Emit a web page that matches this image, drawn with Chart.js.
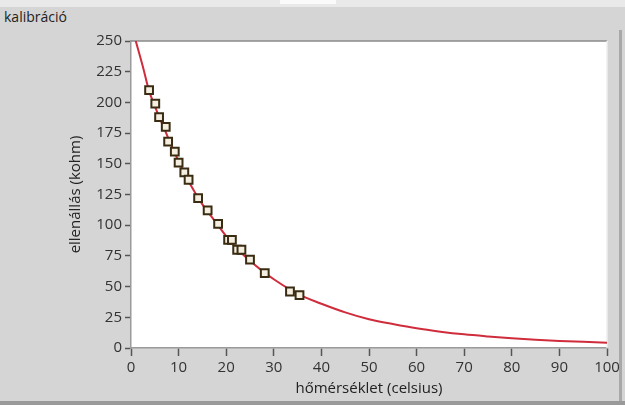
<!DOCTYPE html>
<html>
<head>
<meta charset="utf-8">
<script src="https://cdn.jsdelivr.net/npm/chart.js@4.4.1/dist/chart.umd.min.js"></script>
<style>
  html, body { margin: 0; padding: 0; background: #d5d5d5; width: 625px; height: 405px; overflow: hidden; }
  #wrap { position: relative; width: 625px; height: 405px; }
  #topstrip { position: absolute; left: 0; top: 0; width: 625px; height: 7px; background: #e9e9e9; }
  #topwhite { position: absolute; left: 280px; top: 0; width: 56px; height: 4px; background: #fafafa; }
  #title { position: absolute; left: 4px; top: 7px; font: 14px "Open Sans", sans-serif; color: #222; }
  #rline { position: absolute; left: 619px; top: 30px; width: 3px; height: 375px; background: #a8a8a8; }
  #bline { position: absolute; left: 0; top: 401px; width: 625px; height: 4px; background: #9a9a9a; }
  canvas { position: absolute; left: 0; top: 0; }
</style>
</head>
<body>
<div id="wrap">
  <div id="topstrip"></div>
  <div id="topwhite"></div>
  <div id="title">kalibráció</div>
  <div id="rline"></div>
  <div id="bline"></div>
  <canvas id="c" width="625" height="405"></canvas>
</div>
<script>
// Fitted curve
const curveX = [0, 1, 2.5, 3.75, 5, 7.5, 10, 12.5, 15, 17.5, 20, 22.5, 25, 27.5, 30, 35, 40, 45, 50, 55, 60, 65, 70, 75, 80, 85, 90, 95, 100];
const curveY = [264, 250, 229, 210, 197, 174, 152, 133, 117, 104, 91, 80, 71, 63, 56, 44, 36, 29, 23.4, 19.5, 16, 13.3, 11.1, 9.4, 7.9, 6.7, 5.7, 5.0, 4.3];

// Measured points
const measX = [3.8, 5.1, 5.9, 7.3, 7.8, 9.2, 10.0, 11.2, 12.1, 14.1, 16.1, 18.3, 20.4, 21.2, 22.3, 23.2, 25.0, 28.1, 33.4, 35.4];
const measY = [210, 199, 188, 180, 168, 160, 151, 143, 137, 122, 112, 101, 88, 88, 80, 80, 72, 61, 46, 43];

const xTicks = [0, 10, 20, 30, 40, 50, 60, 70, 80, 90, 100];
const yTicks = [0, 25, 50, 75, 100, 125, 150, 175, 200, 225, 250];

const xTitle = 'hőmérséklet (celsius)';
const yTitle = 'ellenállás (kohm)';

const curveData = curveX.map((x, i) => ({ x: x, y: curveY[i] }));
const measData = measX.map((x, i) => ({ x: x, y: measY[i] }));

const borderPlugin = {
  id: 'plotBorder',
  beforeDatasetsDraw(chart) {
    const { ctx, chartArea: a } = chart;
    ctx.save();
    ctx.lineWidth = 1.5;
    ctx.strokeStyle = '#8a8a8a';
    ctx.beginPath(); ctx.moveTo(a.left, a.top); ctx.lineTo(a.right, a.top); ctx.stroke();
    ctx.strokeStyle = '#eeeeee';
    ctx.beginPath(); ctx.moveTo(a.right, a.top); ctx.lineTo(a.right, a.bottom); ctx.stroke();
    ctx.restore();
  }
};

const bgPlugin = {
  id: 'plotBg',
  beforeDraw(chart) {
    const { ctx, chartArea: a } = chart;
    ctx.save();
    ctx.fillStyle = '#ffffff';
    ctx.fillRect(a.left, a.top, a.right - a.left, a.bottom - a.top);
    ctx.restore();
  }
};

const tickFont = { family: '"Open Sans", sans-serif', size: 15 };
const titleFont = { family: '"Open Sans", sans-serif', size: 15 };

new Chart(document.getElementById('c'), {
  type: 'scatter',
  data: {
    datasets: [
      {
        label: 'fit',
        data: curveData,
        showLine: true,
        borderColor: '#cf2c3c',
        borderWidth: 2,
        pointRadius: 0,
        cubicInterpolationMode: 'monotone',
        order: 2
      },
      {
        label: 'mért',
        data: measData,
        showLine: false,
        pointStyle: 'rect',
        pointRadius: 5.5,
        pointBorderWidth: 2,
        pointBorderColor: '#3a2c12',
        pointBackgroundColor: '#f4efe0',
        order: 1
      }
    ]
  },
  options: {
    responsive: false,
    animation: false,
    devicePixelRatio: 1,
    layout: { padding: { left: 0, right: 18, top: 41, bottom: 0 } },
    plugins: { legend: { display: false }, tooltip: { enabled: false } },
    scales: {
      x: {
        type: 'linear',
        min: 0, max: 100,
        afterFit(s) { s.height = 57; },
        afterBuildTicks(s) { s.ticks = xTicks.map(v => ({ value: v })); },
        grid: { drawOnChartArea: false, drawTicks: true, tickLength: 8, tickColor: '#555', tickWidth: 1.5 },
        border: { color: '#9a9a9a', width: 1.5 },
        ticks: { font: tickFont, color: '#333', padding: 3, maxRotation: 0 },
        title: { display: true, text: xTitle, font: titleFont, color: '#222', padding: { top: 0, bottom: 7 } }
      },
      y: {
        type: 'linear',
        min: 0, max: 250,
        afterFit(s) { s.width = 131; },
        afterBuildTicks(s) { s.ticks = yTicks.map(v => ({ value: v })); },
        grid: { drawOnChartArea: false, drawTicks: true, tickLength: 6, tickColor: '#555', tickWidth: 1.5 },
        border: { color: '#9a9a9a', width: 1.5 },
        ticks: { font: tickFont, color: '#333', padding: 3 },
        title: { display: true, text: yTitle, font: titleFont, color: '#222', padding: { top: 67, bottom: 0 } }
      }
    }
  },
  plugins: [bgPlugin, borderPlugin]
});
</script>
</body>
</html>
